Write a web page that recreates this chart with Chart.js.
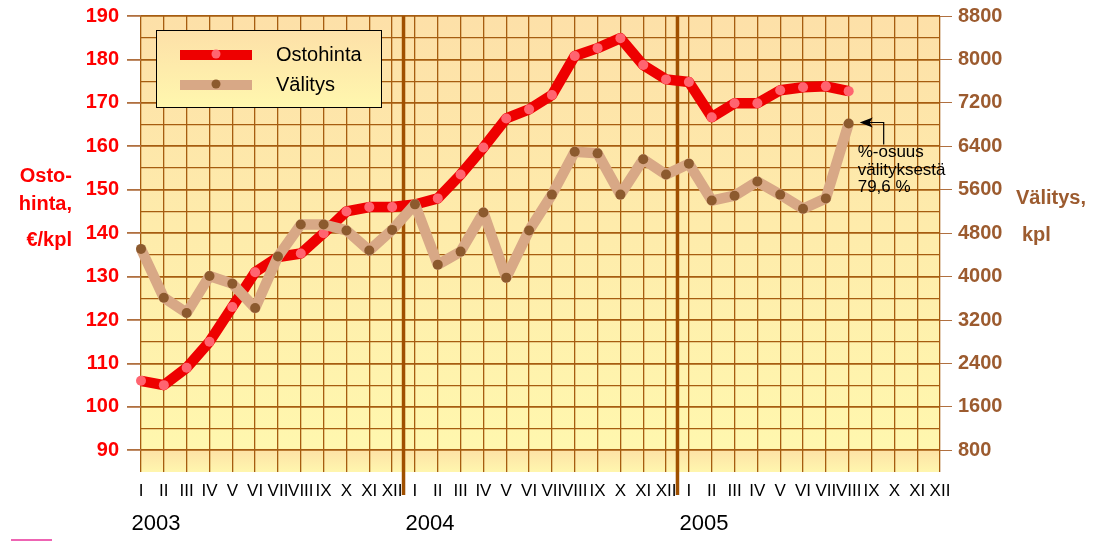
<!DOCTYPE html>
<html>
<head>
<meta charset="utf-8">
<script src="https://cdn.jsdelivr.net/npm/chart.js@4"></script>
<style>
  body { margin: 0; background: #fff; }
  canvas { display: block; }
</style>
</head>
<body>
<canvas id="myChart" width="1101" height="541"></canvas>
<script>
// chart data
const years = ['2003', '2004', '2005'];
const months = ['I', 'II', 'III', 'IV', 'V', 'VI', 'VII', 'VIII', 'IX', 'X', 'XI', 'XII'];
const ostohinta = [106, 105, 109, 115, 123, 131, 134.5, 135.3, 140, 145, 146, 146,
                   146.6, 148, 153.5, 159.7, 166.4, 168.5, 171.8, 180.8, 182.6, 184.9, 178.7, 175.4,
                   174.8, 166.7, 169.9, 169.9, 172.9, 173.6, 173.8, 172.7];
const valitys = [4510, 3610, 3330, 4010, 3870, 3420, 4370, 4960, 4960, 4850, 4480, 4860,
                 5330, 4220, 4460, 5180, 3980, 4850, 5510, 6300, 6270, 5510, 6160, 5880,
                 6080, 5400, 5490, 5750, 5510, 5250, 5440, 6820];
const leftTicks = [90, 100, 110, 120, 130, 140, 150, 160, 170, 180, 190];
const rightTicks = [800, 1600, 2400, 3200, 4000, 4800, 5600, 6400, 7200, 8000, 8800];
const shareNote = ['%-osuus', 'välityksestä', '79,6 %'];

const FONT = 'Arial, "Liberation Sans", sans-serif';
const GRID = '#a65d10';
const RED = '#ff0000';
const BROWN = '#9c5b2f';
const CLEAR = 'rgba(0,0,0,0)';

const labels = years.flatMap(() => months);

// ticks every half step so the grid gets the minor lines too
function halfSteps(list, min) {
  return s => {
    const step = (list[1] - list[0]) / 2;
    const out = [];
    for (let v = min; v <= list[list.length - 1] + 1e-9; v += step) out.push({ value: v });
    s.ticks = out;
  };
}

// fixed box width, no extra label padding above/below
function fixWidth(w) {
  return s => {
    s.width = w;
    s.paddingTop = 0;
    s.paddingBottom = 0;
  };
}

// background, year lines, legend box, titles and the note
const decor = {
  id: 'decor',
  beforeDraw(chart) {
    const { ctx, chartArea: a } = chart;
    const g = ctx.createLinearGradient(0, a.top, 0, a.bottom);
    g.addColorStop(0, '#fde0a8');
    g.addColorStop(0.948, '#fff7ae');
    g.addColorStop(0.952, '#fde2a6');
    g.addColorStop(1, '#fff6ae');
    ctx.save();
    ctx.fillStyle = g;
    ctx.fillRect(a.left, a.top, a.right - a.left, a.bottom - a.top);
    ctx.restore();
  },
  beforeDatasetsDraw(chart) {
    const { ctx, chartArea: a } = chart;
    const xs = chart.scales.x;
    ctx.save();
    ctx.strokeStyle = '#a05000';
    ctx.lineWidth = 3.5;
    for (let k = 1; k < years.length; k++) {
      const x = xs.getPixelForValue(12 * k - 0.5);
      ctx.beginPath();
      ctx.moveTo(x, a.top);
      ctx.lineTo(x, 495);
      ctx.stroke();
    }
    ctx.restore();
  },
  afterDraw(chart) {
    const { ctx } = chart;
    const xs = chart.scales.x;
    ctx.save();

    // legend
    const lx = 156, ly = 30, lw = 225, lh = 77;
    const lg = ctx.createLinearGradient(0, ly, 0, ly + lh);
    lg.addColorStop(0, '#fde0a8');
    lg.addColorStop(1, '#fff7ae');
    ctx.fillStyle = lg;
    ctx.fillRect(lx, ly, lw, lh);
    ctx.strokeStyle = '#000';
    ctx.lineWidth = 1;
    ctx.strokeRect(lx + 0.5, ly + 0.5, lw, lh);
    chart.data.datasets.forEach((ds, i) => {
      const y = ly + 25 + i * 30;
      ctx.strokeStyle = ds.borderColor;
      ctx.lineWidth = 10;
      ctx.beginPath();
      ctx.moveTo(180, y);
      ctx.lineTo(252, y);
      ctx.stroke();
      ctx.fillStyle = ds.pointBackgroundColor;
      ctx.beginPath();
      ctx.arc(216, y - 1, 4.5, 0, Math.PI * 2);
      ctx.fill();
      ctx.fillStyle = '#000';
      ctx.font = '20px ' + FONT;
      ctx.textAlign = 'left';
      ctx.textBaseline = 'middle';
      ctx.fillText(ds.label, 276, y);
    });

    // axis titles
    ctx.font = 'bold 20px ' + FONT;
    ctx.fillStyle = RED;
    ctx.textAlign = 'right';
    ctx.fillText('Osto-', 72, 176);
    ctx.fillText('hinta,', 72, 204);
    ctx.fillText('€/kpl', 72, 240);
    ctx.fillStyle = BROWN;
    ctx.textAlign = 'left';
    ctx.fillText('Välitys,', 1016, 198);
    ctx.fillText('kpl', 1022, 235);

    // year labels
    ctx.fillStyle = '#000';
    ctx.font = '22px ' + FONT;
    years.forEach((yr, k) => {
      ctx.fillText(yr, xs.getPixelForValue(12 * k - 0.5) + 2, 524);
    });

    // note with arrow at the last Välitys point
    const meta = chart.getDatasetMeta(1);
    const p = meta.data[valitys.length - 1];
    ctx.strokeStyle = '#000';
    ctx.lineWidth = 1.2;
    ctx.beginPath();
    ctx.moveTo(p.x + 20, p.y - 1);
    ctx.lineTo(p.x + 35, p.y - 1);
    ctx.lineTo(p.x + 35, p.y + 21);
    ctx.stroke();
    ctx.fillStyle = '#000';
    ctx.beginPath();
    ctx.moveTo(p.x + 11, p.y - 1);
    ctx.lineTo(p.x + 24, p.y - 6);
    ctx.lineTo(p.x + 21, p.y - 1);
    ctx.lineTo(p.x + 24, p.y + 4);
    ctx.closePath();
    ctx.fill();
    ctx.font = '17px ' + FONT;
    shareNote.forEach((t, i) => ctx.fillText(t, p.x + 9, p.y + 29 + i * 17.5));

    // small mark bottom left
    ctx.strokeStyle = '#e8309a';
    ctx.lineWidth = 1.5;
    ctx.beginPath();
    ctx.moveTo(11, 540);
    ctx.lineTo(52, 540);
    ctx.stroke();

    ctx.restore();
  }
};

const ctx = document.getElementById('myChart').getContext('2d');
const chart = new Chart(ctx, {
  type: 'line',
  data: {
    labels: labels,
    datasets: [
      {
        label: 'Ostohinta',
        data: ostohinta,
        yAxisID: 'y',
        borderColor: '#ee0000',
        borderWidth: 10.5,
        borderJoinStyle: 'round',
        pointRadius: 5,
        pointBackgroundColor: '#ff6470',
        pointBorderWidth: 0,
        tension: 0,
        clip: false,
        order: 1
      },
      {
        label: 'Välitys',
        data: valitys,
        yAxisID: 'y2',
        borderColor: '#d8a886',
        borderWidth: 10.5,
        borderJoinStyle: 'round',
        pointRadius: 5,
        pointBackgroundColor: '#8c5a2e',
        pointBorderWidth: 0,
        tension: 0,
        clip: false,
        order: 0
      }
    ]
  },
  options: {
    responsive: false,
    animation: false,
    devicePixelRatio: 1,
    layout: { padding: { top: 16, left: 0, right: 0, bottom: 0 } },
    plugins: {
      legend: { display: false },
      tooltip: { enabled: false }
    },
    scales: {
      x: {
        type: 'category',
        offset: false,
        grid: { color: GRID, lineWidth: 1.3, drawTicks: false },
        border: { display: false },
        ticks: {
          autoSkip: false,
          maxRotation: 0,
          color: '#000',
          font: { family: FONT, size: 17 },
          padding: 9
        },
        afterFit(s) { s.height = 69; }
      },
      y: {
        position: 'left',
        min: 85,
        max: 190,
        afterBuildTicks: halfSteps(leftTicks, 85),
        ticks: {
          autoSkip: false,
          color: RED,
          font: { family: FONT, size: 20, weight: 'bold' },
          padding: 8,
          callback: v => (leftTicks.includes(v) ? v : '')
        },
        grid: {
          color: c => (c.tick.value === 85 ? CLEAR : GRID),
          lineWidth: c => (leftTicks.includes(c.tick.value) ? 1.8 : 1.2),
          tickLength: 14,
          tickColor: c => (leftTicks.includes(c.tick.value) ? '#b07040' : CLEAR)
        },
        border: { display: false },
        afterFit: fixWidth(141)
      },
      y2: {
        position: 'right',
        min: 400,
        max: 8800,
        afterBuildTicks: halfSteps(rightTicks, 400),
        ticks: {
          autoSkip: false,
          color: BROWN,
          font: { family: FONT, size: 20, weight: 'bold' },
          padding: 6,
          callback: v => (rightTicks.includes(v) ? v : '')
        },
        grid: {
          drawOnChartArea: false,
          tickLength: 12,
          tickColor: c => (rightTicks.includes(c.tick.value) ? '#b07040' : CLEAR)
        },
        border: { display: false },
        afterFit: fixWidth(161)
      }
    }
  },
  plugins: [decor]
});
</script>
</body>
</html>
